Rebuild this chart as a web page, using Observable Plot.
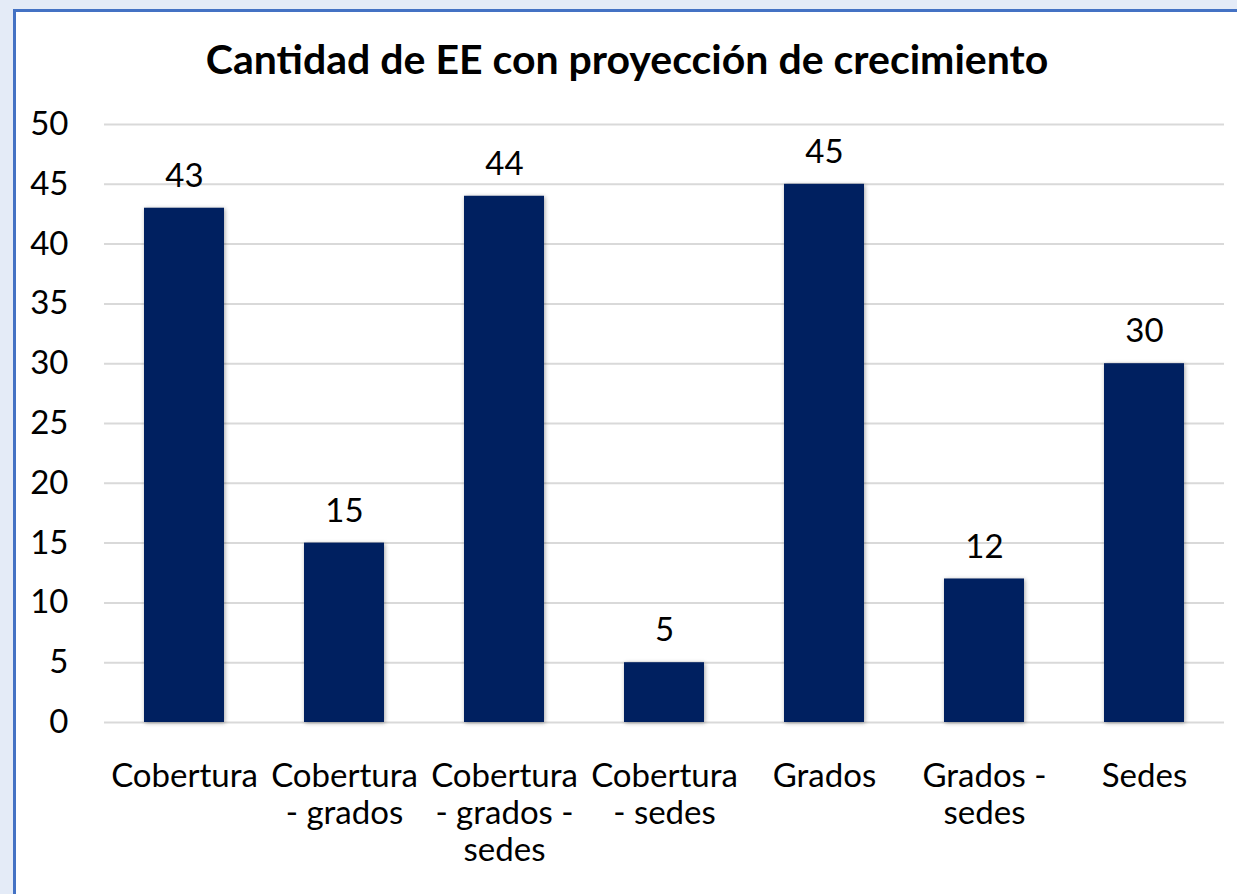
<!DOCTYPE html>
<html>
<head>
<meta charset="utf-8">
<script src="https://cdn.jsdelivr.net/npm/d3@7"></script>
<script src="https://cdn.jsdelivr.net/npm/@observablehq/plot@0.6"></script>
<style>
  html, body { margin: 0; padding: 0; background: #e4ebf7; width: 1237px; height: 894px; overflow: hidden; }
  #frame { position: absolute; left: 13px; top: 9px; width: 1230px; height: 890px; background: #fff;
           border-left: 3px solid #4472c4; border-top: 3px solid #4472c4; box-sizing: border-box; }
  #title { position: absolute; left: 0; top: 0; width: 1222px; height: 85px; text-align: center;
           font-family: Lato, "Open Sans", sans-serif; font-weight: bold; font-size: 41px; line-height: 94px; color: #000; }
  #chart { position: absolute; left: 0; top: 85px; }
  #chart g[aria-label="bar"] rect { filter: drop-shadow(1px 1px 2px rgba(0,0,0,0.35)); }
</style>
</head>
<body>
<div id="frame">
  <div id="title">Cantidad de EE con proyección de crecimiento</div>
  <div id="chart"></div>
</div>
<script>
const categories = ["Cobertura", "Cobertura - grados", "Cobertura - grados - sedes", "Cobertura - sedes", "Grados", "Grados - sedes", "Sedes"];
const values = [43, 15, 44, 5, 45, 12, 30];
const tickLabels = ["Cobertura", "Cobertura\n- grados", "Cobertura\n- grados -\nsedes", "Cobertura\n- sedes", "Grados", "Grados -\nsedes", "Sedes"];
const yTicks = [0, 5, 10, 15, 20, 25, 30, 35, 40, 45, 50];

const data = categories.map((c, i) => ({category: c, value: values[i]}));
const labelOf = new Map(categories.map((c, i) => [c, tickLabels[i]]));

const plot = Plot.plot({
  width: 1222,
  height: 787,
  marginTop: 27,
  marginBottom: 162,
  marginLeft: 88,
  marginRight: 14,
  style: { fontFamily: "Lato, 'Open Sans', sans-serif", fontSize: "33px", color: "#000", background: "transparent" },
  x: { domain: categories, paddingInner: 0.5, paddingOuter: 0.25, label: null },
  y: { domain: [0, 50], label: null },
  marks: [
    Plot.gridY(yTicks, { stroke: "#d9d9d9", strokeOpacity: 1, strokeWidth: 2 }),
    Plot.axisY(yTicks, { tickSize: 0, tickPadding: 36, fontSize: 33, label: null }),
    Plot.axisX({ tickSize: 0, tickPadding: 38, fontSize: 33, lineHeight: 1.12, tickFormat: d => labelOf.get(d), label: null }),
    Plot.barY(data, { x: "category", y: "value", fill: "#002060" }),
    Plot.text(data, { x: "category", y: "value", text: d => String(d.value), dy: -32, fontSize: 33, fill: "#000" })
  ]
});
document.getElementById("chart").appendChild(plot);
</script>
</body>
</html>
